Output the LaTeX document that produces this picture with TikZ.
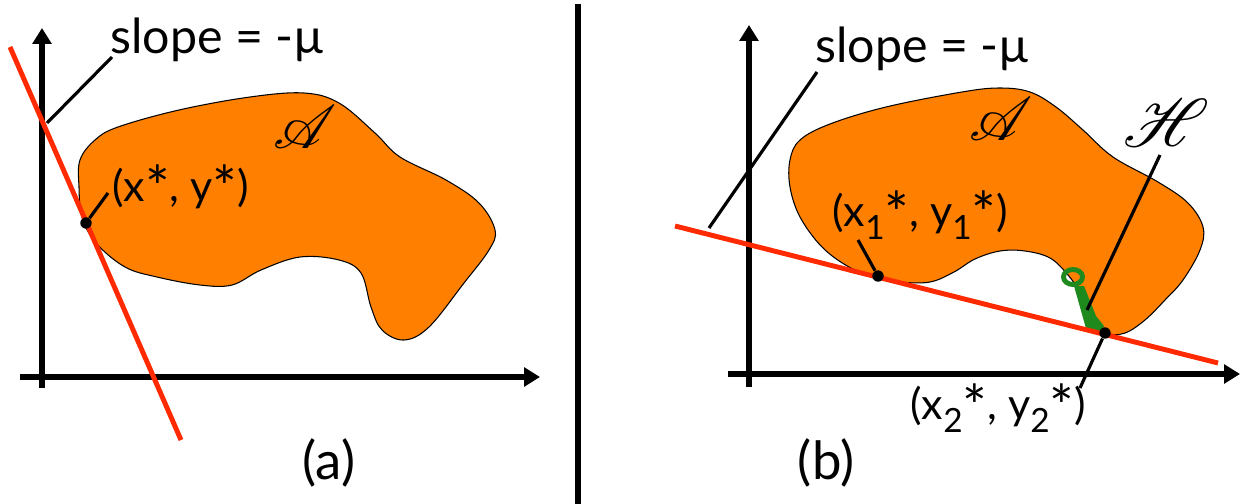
\documentclass[tikz,border=0pt]{standalone}
\usepackage{fontspec}
\setmainfont{Lato}
\usepackage{amsmath}
\usepackage{mathrsfs}
\usetikzlibrary{arrows.meta}
\definecolor{regionfill}{HTML}{FF8000}
\definecolor{tangent}{HTML}{FF2A00}
\definecolor{keygreen}{HTML}{1E8A1E}
\tikzset{
  axis/.style={line width=3.2pt,-{Triangle[length=9pt,width=10.5pt]}},
  tangentline/.style={tangent,line width=2.8pt},
  leader/.style={black,line width=1.8pt},
  region/.style={fill=regionfill,draw=black,line width=0.6pt},
  dotpt/.style={circle,fill=black,inner sep=0pt,minimum size=6.5pt},
  lbl/.style={font=\fontsize{27.5}{31}\selectfont,inner sep=0pt},
  ptlbl/.style={font=\fontsize{24.5}{28}\selectfont,inner sep=0pt},
  sublbl/.style={font=\fontsize{30}{34}\selectfont,inner sep=0pt},
  setname/.style={font=\fontsize{24.88}{28}\selectfont,inner sep=0pt},
}
\newcommand{\sbs}[1]{\raisebox{-0.3em}{\fontsize{19}{19}\selectfont #1}}
\newcommand{\opt}{\raisebox{-0.18em}{\scalebox{1.35}{*}}}
\newcommand{\setsym}[2][1.4]{\scalebox{#1}{$\mathscr{#2}$}}

\begin{document}
\begin{tikzpicture}[x=0.02cm,y=-0.02cm]
  \useasboundingbox (0,0) rectangle (1255,504);
  % panel (a)
  \draw[region] plot[smooth cycle,tension=0.6] coordinates {
    (80,160) (95,140) (118,127) (179,110) (250,97) (304,93) (339,103)
    (375,133) (400,157) (446,180) (479,203) (495,230) (489,250) (464,283)
    (429,327) (404,340) (382,330) (371,307) (361,273) (339,260) (300,257)
    (261,270) (232,285) (200,285) (157,277) (125,267) (96,243) (82,217)
    (79,187)};
  \draw[axis] (42,388) -- (42,28);
  \draw[axis] (20,377) -- (540,377);
  \draw[tangentline] (10,47) -- (181,440);
  \node[dotpt] (starA) at (86,223) {};
  \coordinate (starAtip) at (108,193);
  \coordinate (slopeAtip) at (112,57);
  \coordinate (slopeAend) at (47,123);
  \node[lbl,anchor=base west] (slopeA) at (110,53) {slope = -µ};
  \node[ptlbl,anchor=west] (starAlab) at (112,187) {(x\opt, y\opt)};
  \node[setname] (setA) at (305,127) {\setsym{A}};
  \draw[leader] (slopeAtip) -- (slopeAend);
  \draw[leader] (starA) -- (starAtip);
  \node[sublbl] (capA) at (329,463) {(a)};
  % divider
  \draw[line width=3pt] (578,4) -- (578,504);
  % panel (b)
  \draw[region] plot[smooth cycle,tension=0.6] coordinates {
    (790,160) (800,140) (830,124) (886,107) (962,92) (1000,88) (1030,92)
    (1056,107) (1083,130) (1113,157) (1158,182) (1188,203) (1203,227)
    (1200,250) (1183,280) (1165,300) (1145,320) (1125,333) (1107,333)
    (1095,318) (1082,295) (1068,275) (1050,258) (1025,251) (1000,251)
    (975,259) (954,272) (930,282) (900,282) (875,277) (849,267) (822,247)
    (800,217) (790,187)};
  \draw[axis] (749,387) -- (749,25);
  \draw[axis] (728,374) -- (1240,374);
  \fill[keygreen] (1074,286) -- (1084,286) -- (1096,316) -- (1104,326)
    -- (1101,332) -- (1087,332) -- cycle;
  \draw[keygreen,line width=2.8pt] (1073,277) ellipse [x radius=9.5,y radius=7.5];
  \draw[tangentline] (675,226) -- (1218,363);
  \node[dotpt] (starB) at (878,276) {};
  \node[dotpt] (starC) at (1105,333) {};
  \coordinate (starBtip) at (858,240);
  \coordinate (starCtip) at (1080,388);
  \coordinate (slopeBtip) at (817,72);
  \coordinate (slopeBend) at (709,228);
  \coordinate (holeTip) at (1160,155);
  \coordinate (holeEnd) at (1087,310);
  \node[lbl,anchor=base west] (slopeB) at (815,62) {slope = -µ};
  \node[ptlbl,anchor=west] (starBlab) at (832,215) {(x\sbs{1}\opt, y\sbs{1}\opt)};
  \node[ptlbl,anchor=west] (starClab) at (910,408) {(x\sbs{2}\opt, y\sbs{2}\opt)};
  \node[setname] (setB) at (1001,119) {\setsym{A}};
  \node[setname] (setH) at (1166,123) {\setsym[1.55]{H}};
  \draw[leader] (slopeBtip) -- (slopeBend);
  \draw[leader] (starB) -- (starBtip);
  \draw[leader] (starC) -- (starCtip);
  \draw[leader] (holeTip) -- (holeEnd);
  \node[sublbl] (capB) at (826,463) {(b)};
\end{tikzpicture}
\end{document}
